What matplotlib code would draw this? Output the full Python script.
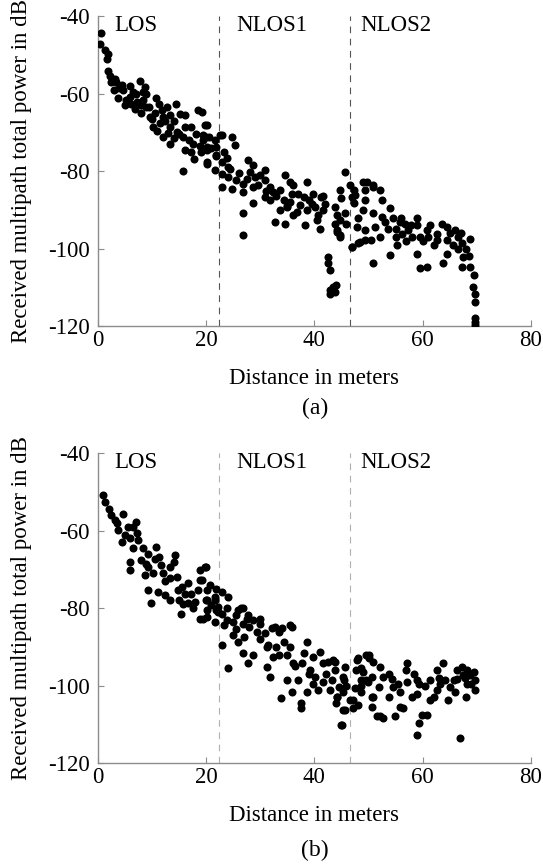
import matplotlib
matplotlib.use('Agg')
import matplotlib.pyplot as plt

plt.rcParams['font.family'] = ['Liberation Serif', 'DejaVu Serif']
plt.rcParams['axes.unicode_minus'] = False

# (a) measured points: distance in m, received total power in dB
dist_a = [0.6, 0.5, 1.3, 1.9, 1.7, 1.9, 3.1, 3.4, 4.4, 4.7, 7.8, 3.8, 5.9, 6.2, 8.4, 8.4,
          9.0, 10.8, 11.3, 11.8, 10.6, 12.7, 14.5, 13.3, 15.2, 16.2, 18.5, 10.2, 11.0, 12.1,
          13.4, 14.7, 13.3, 15.8, 17.2, 20.1, 16.9, 18.2, 19.4, 19.9, 21.9, 22.6, 24.7, 25.4,
          16.1, 17.2, 20.1, 21.9, 23.3, 17.8, 16.1, 20.1, 15.7, 6.0, 7.0, 8.0, 9.0, 5.0,
          3.0, 2.5, 6.8, 9.6, 12.5, 14.0, 11.5, 8.8,
          19.2, 19.8, 19.5, 20.6, 21.6, 22.9, 20.1, 21.9, 20.1, 21.6, 22.9, 23.8, 24.1, 24.0,
          22.9, 24.7, 25.6, 26.9, 26.9, 27.8, 28.7, 28.2, 29.0, 28.7, 28.7, 26.9, 26.9, 29.9,
          30.9, 30.9, 31.8, 32.3, 30.9, 31.8, 33.6, 34.6, 34.3, 35.5, 36.1, 35.8, 35.5, 32.7,
          34.6, 33.6, 34.9, 37.3, 36.1, 38.6, 38.0, 39.0, 38.6, 38.2, 39.8, 40.1, 40.7, 40.4,
          41.3, 41.6, 41.0, 41.6, 42.6, 42.6, 42.8, 42.8, 43.5, 43.8, 44.0, 42.8, 43.8, 44.1,
          43.8, 44.1, 44.7, 44.7, 44.9, 45.7, 45.7, 45.9, 46.9, 46.6, 47.3, 47.0, 47.3, 48.1,
          47.9, 49.0, 49.3, 49.0, 49.3, 49.4, 50.9, 48.4, 50.9, 51.1,
          47.5, 49.7, 50.9, 52.1, 52.4, 54.0, 50.9, 52.4, 54.6, 55.8, 56.7, 58.9, 57.3, 56.1,
          55.2, 54.0, 52.1, 50.4, 49.4, 46.9, 48.1, 44.7, 44.1, 44.8, 59.5, 60.7, 61.3, 58.9,
          59.5, 60.7, 62.6, 63.6, 64.5, 66.0, 62.7, 64.4, 63.8, 64.5, 67.2, 68.8, 67.5, 67.2,
          68.8, 69.4, 69.2, 69.7, 69.7, 69.7, 69.7, 69.7, 53.0, 55.0, 56.0, 57.8, 58.0, 59.0,
          60.0, 61.0, 62.0, 65.0, 65.5, 66.5, 67.0, 66.5, 68.0, 68.5, 57.0, 55.0, 53.5,
          2.2, 4.0, 5.3, 6.5, 7.3, 8.0, 9.5, 10.0, 12.0, 13.0, 14.0, 15.0, 17.5, 18.8, 19.0,
          21.0, 23.0, 24.5, 26.0, 27.5, 29.5, 31.0, 33.0, 35.0, 37.0, 39.5, 36.8, 42.0]
power_a = [-44.4, -47.0, -48.8, -49.7, -51.0, -54.0, -56.1, -56.9, -57.8, -59.0, -56.8, -61.2,
           -60.8, -62.5, -59.5, -61.6, -63.4, -61.2, -62.5, -64.3, -65.0, -63.4, -62.5, -65.5,
           -65.2, -65.5, -64.3, -68.6, -69.5, -71.1, -68.6, -69.9, -72.9, -71.1, -68.6, -68.1,
           -71.9, -70.4, -72.0, -71.1, -73.7, -70.6, -71.1, -73.3, -74.6, -75.0, -78.0, -76.0,
           -75.0, -76.8, -68.6, -73.7, -80.0, -58.0, -60.0, -63.0, -60.0, -63.0, -59.0, -57.0,
           -64.0, -66.0, -67.0, -67.0, -67.5, -58.2,
           -64.7, -68.1, -70.7, -71.1, -72.0, -70.7, -74.6, -75.9, -77.6, -79.7, -80.6, -76.7,
           -78.9, -81.5, -84.1, -84.5, -82.3, -83.2, -85.3, -77.2, -78.5, -80.2, -81.5, -84.1,
           -88.3, -90.9, -96.5, -81.0, -79.7, -82.3, -84.1, -85.3, -86.6, -87.5, -84.9, -81.0,
           -87.5, -82.8, -83.6, -85.8, -87.9, -93.1, -93.5, -90.0, -89.2, -88.8, -91.4, -82.8,
           -86.6, -87.5, -90.0, -93.9, -85.8, -89.2, -91.4, -92.6, -86.6, -86.3, -94.8, -90.0,
           -102.1, -103.8, -105.5, -110.7, -109.9, -111.1, -109.5, -111.6, -89.2, -91.4, -93.5,
           -95.7, -97.0, -84.9, -87.0, -80.2, -90.9, -93.5, -99.5, -83.6, -84.9, -86.6, -88.3,
           -92.2, -94.4, -82.8, -84.9, -90.0, -87.5, -97.8, -103.8, -98.2, -84.1, -94.4,
           -86.2, -82.8, -83.6, -84.9, -87.5, -89.6, -90.9, -91.8, -92.2, -93.1, -93.5, -92.2,
           -95.2, -96.1, -99.1, -101.7, -97.0, -97.8, -95.2, -99.5, -98.6, -92.6, -95.2, -96.5,
           -97.0, -95.2, -93.9, -101.3, -105.1, -104.7, -96.1, -93.5, -94.4, -95.2, -97.8, -97.8,
           -103.8, -101.3, -98.6, -97.4, -102.1, -104.7, -104.7, -106.8, -109.9, -111.6, -113.7,
           -118.0, -119.7, -119.0, -93.0, -95.0, -92.0, -94.0, -97.0, -94.0, -98.0, -97.0, -99.0,
           -96.0, -99.0, -97.0, -96.0, -100.0, -100.0, -102.0, -98.0, -97.0, -95.0,
           -55.5, -58.5, -61.5, -59.5, -62.0, -65.0, -63.5, -66.5, -66.0, -70.0, -71.5, -70.5,
           -73.0, -73.5, -75.0, -74.0, -77.5, -79.5, -80.5, -82.0, -83.5, -85.0, -86.5, -89.0,
           -86.0, -88.5, -90.5, -88.5]

# (b) measured points
dist_b = [1.0, 1.3, 2.5, 3.1, 4.7, 3.8, 4.4, 5.5, 6.5, 7.0, 7.3, 7.5, 6.5, 8.4, 9.2, 10.8,
          10.6, 11.3, 5.9, 5.9, 9.3, 10.2, 8.7, 11.6, 12.0, 13.3, 14.2, 14.0, 14.7, 13.3, 9.3,
          9.8, 11.1, 12.5, 13.3, 14.8, 15.5, 16.1, 15.0, 16.6, 16.6, 15.4, 17.2, 18.9, 19.9,
          18.9, 18.5, 20.1, 19.9, 21.6, 21.0, 22.2, 18.9, 20.1, 22.2, 23.8, 25.6, 26.5, 27.5,
          28.7, 29.9, 32.7, 35.5,
          19.8, 19.2, 20.7, 21.9, 22.9, 24.1, 20.1, 21.6, 20.1, 21.9, 23.8, 19.5, 21.6, 23.4,
          25.0, 25.9, 26.9, 27.7, 26.9, 28.0, 29.9, 29.4, 25.0, 25.9, 22.9, 24.1, 26.9, 27.8,
          28.7, 30.9, 32.2, 33.4, 34.0, 35.8, 31.2, 33.0, 34.3, 32.3, 31.2, 31.8, 34.9, 35.5,
          36.1, 34.9, 37.0, 33.9, 37.5, 37.5, 35.9, 38.6, 38.0, 38.6, 37.7, 39.8, 41.0, 41.6,
          39.2, 40.1, 39.8, 40.7, 42.6, 43.8, 42.2, 43.2, 42.9, 44.1, 43.9, 45.3, 45.1, 45.3,
          45.9, 45.3, 47.2, 47.9, 47.7, 48.9, 50.0, 50.9, 49.9, 48.6, 50.9, 51.5,
          43.5, 43.8, 45.7, 45.4, 44.1, 45.6, 45.0, 46.6, 48.1, 49.5, 50.1, 48.6, 48.6, 49.5,
          50.7, 47.5, 48.6, 48.1, 47.2, 50.7, 50.7, 52.1, 52.7, 52.1, 52.7, 53.7, 54.3, 54.6,
          53.7, 54.9, 55.8, 55.8, 56.4, 57.1, 57.0, 57.1, 58.3, 58.9, 59.4, 58.9, 59.8, 59.3,
          58.9, 60.7, 61.4, 62.0, 62.6, 61.4, 62.6, 63.8, 63.2, 64.1, 64.7, 66.0, 66.3, 66.3,
          67.2, 67.5, 68.1, 68.7, 69.4, 69.7, 69.7, 68.1, 68.0, 66.9, 65.8,
          2.0, 3.5, 5.0, 6.0, 8.0, 9.0, 12.5, 15.8, 17.5, 18.0, 23.0, 25.5, 27.0, 30.0, 31.5,
          33.5, 36.5, 39.0, 41.5, 44.5, 52.0, 55.5, 58.0, 60.5, 63.0, 65.0, 67.8, 69.0]
power_b = [-50.8, -52.6, -56.0, -57.3, -55.6, -59.9, -62.9, -59.0, -59.0, -57.7, -60.7, -62.5,
           -64.6, -64.6, -65.9, -64.2, -67.2, -66.8, -68.0, -70.2, -69.3, -71.0, -71.5, -68.9,
           -71.0, -69.3, -66.3, -68.0, -71.9, -72.3, -75.4, -78.8, -75.8, -76.7, -78.0, -75.4,
           -74.5, -76.3, -78.0, -73.6, -78.8, -81.4, -76.3, -70.2, -69.3, -72.8, -75.4, -75.4,
           -78.0, -77.1, -79.2, -79.7, -82.7, -82.2, -81.1, -83.1, -81.8, -80.1, -82.7, -83.1,
           -84.0, -84.8, -84.4,
           -69.3, -72.8, -74.1, -75.0, -75.8, -77.1, -78.0, -78.0, -80.6, -80.6, -80.1, -82.7,
           -83.5, -84.4, -83.5, -80.6, -80.1, -81.8, -84.0, -84.8, -82.7, -86.1, -87.0, -88.7,
           -89.5, -95.6, -91.7, -94.3, -92.1, -86.5, -85.2, -86.1, -85.2, -84.8, -90.0, -90.0,
           -88.7, -92.6, -95.2, -97.8, -92.1, -90.0, -94.3, -98.6, -98.6, -103.3, -104.6, -105.9,
           -101.6, -101.6, -91.7, -88.7, -94.3, -92.6, -91.3, -94.3, -96.0, -97.8, -99.5, -101.2,
           -93.9, -93.9, -96.9, -98.6, -101.2, -102.9, -104.6, -106.3, -110.2, -97.8, -100.0,
           -101.6, -103.7, -93.4, -96.0, -96.6, -92.1, -93.9, -99.0, -100.2, -102.9, -108.0,
           -93.4, -96.0, -95.2, -98.6, -102.9, -106.3, -110.2, -103.7, -93.0, -92.1, -93.0,
           -95.6, -98.6, -98.6, -97.8, -100.7, -101.6, -105.0, -105.9, -102.9, -105.5, -95.2,
           -97.8, -108.0, -108.5, -96.9, -98.2, -100.3, -102.9, -108.0, -101.6, -105.5, -105.9,
           -94.3, -96.0, -99.0, -96.9, -98.6, -99.5, -102.1, -107.7, -109.8, -112.8, -107.7,
           -103.7, -102.9, -101.2, -98.6, -96.0, -94.3, -99.5, -98.6, -103.7, -101.6, -96.0,
           -98.2, -95.2, -97.3, -96.0, -97.3, -96.4, -98.6, -101.2, -99.5, -102.9, -113.6, -98.6,
           -54.5, -58.0, -61.0, -62.0, -67.5, -68.5, -73.0, -79.0, -80.0, -78.5, -81.5, -85.5,
           -87.5, -88.0, -89.5, -92.0, -95.0, -97.0, -99.0, -100.5, -100.5, -99.5, -103.0,
           -100.0, -98.0, -100.5, -98.0, -99.5]

region_edges = [22.4, 46.5]
region_names = ['LOS', 'NLOS1', 'NLOS2']

AXIS_GRAY = '#8c8c8c'
FS = 16.5


def draw_panel(ax, dist, power, edge_color):
    for x in region_edges:
        ax.axvline(x, color=edge_color, lw=0.8, ls=(0, (6, 5)), zorder=1)
    ax.plot(dist, power, 'o', color='black', ms=5.8, mew=0, zorder=3)

    ax.set_xlim(0, 80)
    ax.set_ylim(-120, -40)
    ax.set_xticks([0, 20, 40, 60, 80])
    ax.set_yticks([-120, -100, -80, -60, -40])

    for side in ['top', 'right']:
        ax.spines[side].set_visible(False)
    for side in ['left', 'bottom']:
        ax.spines[side].set_color(AXIS_GRAY)
        ax.spines[side].set_linewidth(1.0)
    ax.tick_params(direction='in', length=4, color=AXIS_GRAY, labelsize=FS)
    ax.tick_params(axis='y', pad=6)
    ax.tick_params(axis='x', pad=3)

    ax.set_xlabel('Distance in meters', fontsize=FS, labelpad=12)
    ax.set_ylabel('Received multipath total power in dB', fontsize=FS, labelpad=11)

    # region names along the top
    for name, x in zip(region_names, [3.0, 25.6, 48.5]):
        ax.text(x, -42.3, name, fontsize=FS, va='center', ha='left')


fig = plt.figure(figsize=(5.43, 8.65), dpi=100)
ax_a = fig.add_axes([0.180, 0.623, 0.798, 0.358])
ax_b = fig.add_axes([0.180, 0.118, 0.798, 0.358])

draw_panel(ax_a, dist_a, power_a, '#555555')
draw_panel(ax_b, dist_b, power_b, '#b0b0b0')

fig.text(0.58, 0.528, '(a)', fontsize=17, ha='center', va='center')
fig.text(0.58, 0.017, '(b)', fontsize=17, ha='center', va='center')

fig.savefig('out.png', dpi=100)
